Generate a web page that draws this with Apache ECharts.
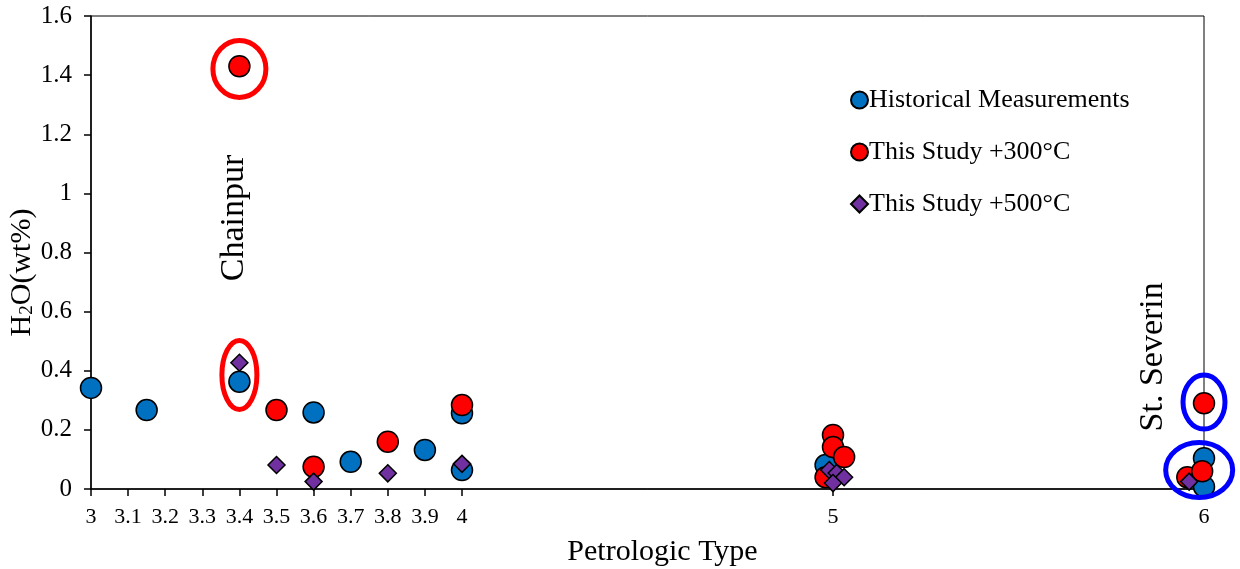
<!DOCTYPE html>
<html>
<head>
<meta charset="utf-8">
<style>
  html, body { margin: 0; padding: 0; background: #ffffff; }
  #chart { width: 1240px; height: 569px; }
</style>
<script src="https://cdn.jsdelivr.net/npm/echarts@6/dist/echarts.min.js"></script>
</head>
<body>
<div id="chart"></div>
<script>
// ---- data (petrologic type, H2O wt%) ----
const seriesNames = ['Historical Measurements', 'This Study +300\u00B0C', 'This Study +500\u00B0C'];
const historical = [
  [3, 0.342], [3.15, 0.267], [3.4, 0.363], [3.6, 0.259], [3.7, 0.092],
  [3.9, 0.132], [4, 0.256], [4, 0.064], [4.98, 0.081], [6, 0.104], [6, 0.008]
];
const study300 = [
  [3.4, 1.43], [3.5, 0.267], [3.6, 0.075], [3.8, 0.16], [4, 0.284],
  [5, 0.183], [5, 0.142], [5.03, 0.108], [4.98, 0.04],
  [6, 0.29], [5.955, 0.04], [5.995, 0.06], [6.015, 0.058]
];
const study500 = [
  [3.4, 0.427], [3.5, 0.081], [3.6, 0.025], [3.8, 0.053], [4, 0.085],
  [4.99, 0.064], [5.01, 0.054], [5.03, 0.04], [5, 0.02],
  [6.005, 0.098], [5.96, 0.025], [6.003, 0.03]
];
const xTickValues = [3, 3.1, 3.2, 3.3, 3.4, 3.5, 3.6, 3.7, 3.8, 3.9, 4, 5, 6];
const yTickValues = [0, 0.2, 0.4, 0.6, 0.8, 1, 1.2, 1.4, 1.6];
// annotations (centres in data units)
const ellipseCenters = [[3.4, 1.421], [3.4, 0.386], [6, 0.294], [5.987, 0.064]];
const annotationTexts = ['Chainpur', 'St. Severin'];
const annotationCenters = [[3.387, 0.917], [5.862, 0.447]];

// ---- styles ----
const ellipseStyles = [
  { rx: 26.5, ry: 28.5, color: '#FF0000' },
  { rx: 17.5, ry: 34.5, color: '#FF0000' },
  { rx: 21, ry: 27, color: '#0000FF' },
  { rx: 33.5, ry: 27.5, color: '#0000FF' }
];
const FONT = '"Liberation Serif", "Times New Roman", serif';

const chart = echarts.init(document.getElementById('chart'), null, { renderer: 'canvas' });

const option = {
  backgroundColor: '#ffffff',
  animation: false,
  grid: {
    left: 91, right: 36, top: 16, bottom: 80,
    containLabel: false, outerBoundsMode: 'none',
    show: true, borderColor: '#000', borderWidth: 1, backgroundColor: 'transparent'
  },
  legend: {
    orient: 'vertical',
    left: 845, top: 82,
    itemWidth: 17, itemHeight: 17,
    itemGap: 26,
    data: [
      { name: seriesNames[0], icon: 'circle' },
      { name: seriesNames[1], icon: 'circle' },
      { name: seriesNames[2], icon: 'diamond' }
    ],
    textStyle: { fontFamily: FONT, fontSize: 26, color: '#000', padding: [0, 0, 0, -4] }
  },
  xAxis: {
    type: 'value', min: 3, max: 6,
    name: 'Petrologic Type', nameLocation: 'middle', nameGap: 48, nameMoveOverlap: false,
    nameTextStyle: { fontFamily: FONT, fontSize: 30, color: '#000', padding: [0, 0, 0, 30] },
    axisLine: { show: true, onZero: false, lineStyle: { color: '#000', width: 1.5 } },
    axisTick: { show: true, inside: false, length: 7, customValues: xTickValues, lineStyle: { color: '#000', width: 1.5 } },
    axisLabel: {
      customValues: xTickValues, margin: 17,
      fontFamily: FONT, fontSize: 22, color: '#000',
      formatter: v => String(Math.round(v * 10) / 10)
    },
    splitLine: { show: false }
  },
  yAxis: {
    type: 'value', min: 0, max: 1.6, interval: 0.2,
    name: 'H{sub|2}O(wt%)', nameLocation: 'middle', nameGap: 54, nameRotate: 90, nameMoveOverlap: false,
    nameTextStyle: {
      fontFamily: FONT, fontSize: 30, color: '#000', padding: [0, 40, 0, 0],
      rich: { sub: { fontFamily: FONT, fontSize: 19, color: '#000', verticalAlign: 'bottom', padding: [11, 0, 0, 0] } }
    },
    axisLine: { show: true, lineStyle: { color: '#000', width: 1.5 } },
    axisTick: { show: true, inside: false, length: 7, lineStyle: { color: '#000', width: 1.5 } },
    axisLabel: {
      margin: 19, fontFamily: FONT, fontSize: 25, color: '#000',
      formatter: v => String(Math.round(v * 10) / 10)
    },
    splitLine: { show: false }
  },
  series: [
    {
      name: seriesNames[0], type: 'scatter', data: historical,
      symbol: 'circle', symbolSize: 21, z: 3,
      itemStyle: { color: '#0070C0', borderColor: '#000', borderWidth: 1.5, opacity: 1 }
    },
    {
      name: seriesNames[1], type: 'scatter', data: study300,
      symbol: 'circle', symbolSize: 21, z: 4,
      itemStyle: { color: '#FF0000', borderColor: '#000', borderWidth: 1.5, opacity: 1 }
    },
    {
      name: seriesNames[2], type: 'scatter', data: study500,
      symbol: 'diamond', symbolSize: 17, z: 5,
      itemStyle: { color: '#7030A0', borderColor: '#000', borderWidth: 1.5, opacity: 1 }
    },
    {
      name: 'ellipses', type: 'custom', z: 6, clip: false, silent: true,
      data: ellipseCenters,
      renderItem: function (params, api) {
        const p = api.coord([api.value(0), api.value(1)]);
        const s = ellipseStyles[params.dataIndex];
        return {
          type: 'ellipse',
          shape: { cx: p[0], cy: p[1], rx: s.rx, ry: s.ry },
          style: { fill: 'none', stroke: s.color, lineWidth: 5 }
        };
      }
    },
    {
      name: 'labels', type: 'custom', z: 6, clip: false, silent: true,
      data: annotationCenters,
      renderItem: function (params, api) {
        const p = api.coord([api.value(0), api.value(1)]);
        return {
          type: 'text',
          x: p[0], y: p[1], rotation: Math.PI / 2,
          style: {
            text: annotationTexts[params.dataIndex],
            fontFamily: FONT, fontSize: 34, fill: '#000',
            align: 'center', verticalAlign: 'middle'
          }
        };
      }
    }
  ]
};
chart.setOption(option);
</script>
</body>
</html>
